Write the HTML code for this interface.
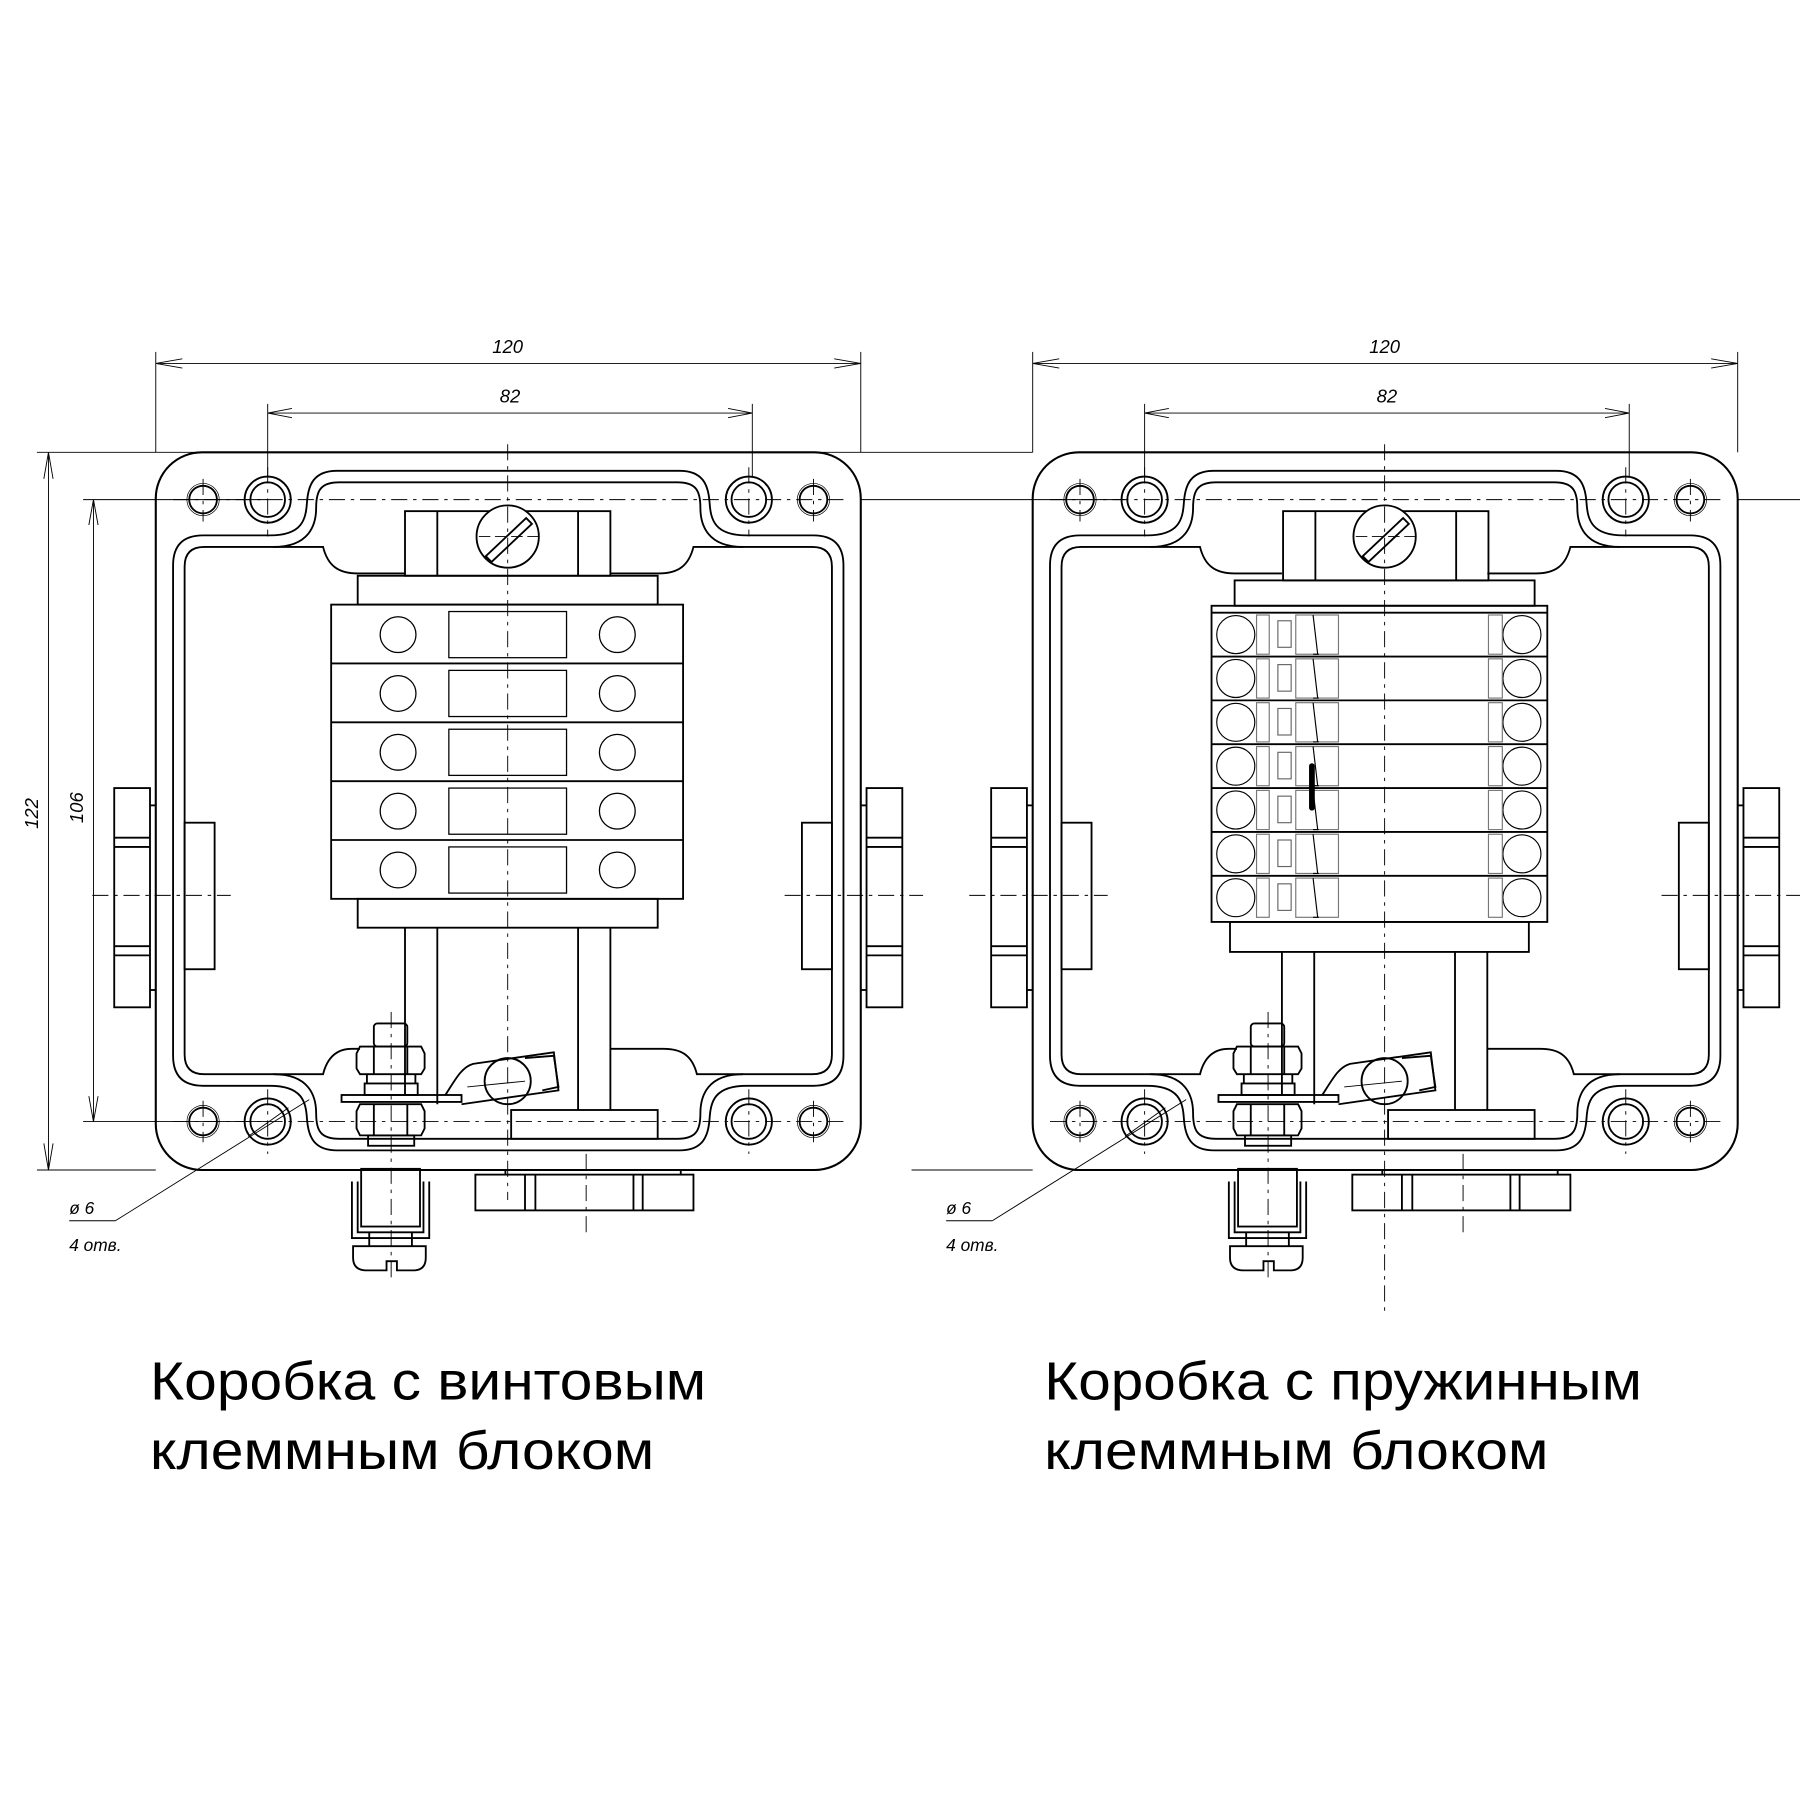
<!DOCTYPE html>
<html><head><meta charset="utf-8"><style>
html,body{margin:0;padding:0;background:#fff;}
svg{display:block}
.t{font-family:"Liberation Sans Narrow","Liberation Sans",sans-serif;}
</style></head><body>
<svg width="1800" height="1800" viewBox="0 0 1560 1560" xmlns="http://www.w3.org/2000/svg" fill="none" stroke="#000" stroke-width="1.6">
<defs>
<g id="box">
  <rect x="135" y="392" width="611" height="622" rx="40" stroke-width="1.8"/>
  <path d="M150,490 Q150,464 176,464 L234,464 C262,464 265,450 266,436 C267,420 272,408 292,408 L589,408 C609,408 614,420 615,436 C616,450 619,464 647,464 L705,464 Q731,464 731,490 L731,915 Q731,941 705,941 L647,941 C619,941 616,955 615,969 C614,985 609,997 589,997 L292,997 C272,997 267,985 266,969 C265,955 262,941 234,941 L176,941 Q150,941 150,915 Z"/>
  <path d="M160,491 Q160,474 177,474 L237,474 C268,474 274,455 274,440 C274,425 278,418 294,418 L587,418 C603,418 607,425 607,440 C607,455 613,474 644,474 L704,474 Q721,474 721,491 L721,914 Q721,931 704,931 L644,931 C613,931 607,950 607,965 C607,980 603,987 587,987 L294,987 C278,987 274,980 274,965 C274,950 268,931 237,931 L177,931 Q160,931 160,914 Z"/>
  <path d="M237,474 L280,474 C284,490 293,497 310,497 L351,497"/>
  <path d="M644,474 L601,474 C597,490 588,497 571,497 L529,497"/>
  <path d="M237,931 L280,931 C284,915 293,909 305,909 L312,909"/>
  <path d="M644,931 L604,931 C600,915 591,909 575,909 L529,909"/>
  <circle cx="232" cy="433" r="20"/><circle cx="232" cy="433" r="15"/>
  <circle cx="649" cy="433" r="20"/><circle cx="649" cy="433" r="15"/>
  <circle cx="232" cy="972" r="20"/><circle cx="232" cy="972" r="15"/>
  <circle cx="649" cy="972" r="20"/><circle cx="649" cy="972" r="15"/>
  <circle cx="176" cy="433" r="12"/><circle cx="176" cy="433" r="14" stroke-width="0.6"/>
  <circle cx="705" cy="433" r="12"/><circle cx="705" cy="433" r="14" stroke-width="0.6"/>
  <circle cx="176" cy="972" r="12"/><circle cx="176" cy="972" r="14" stroke-width="0.6"/>
  <circle cx="705" cy="972" r="12"/><circle cx="705" cy="972" r="14" stroke-width="0.6"/>
  <g stroke-width="0.8" stroke-dasharray="14,5,3,5">
    <line x1="150" y1="433" x2="735" y2="433"/>
    <line x1="150" y1="972" x2="735" y2="972"/>
    <line x1="232" y1="405" x2="232" y2="465"/><line x1="649" y1="405" x2="649" y2="465"/>
    <line x1="232" y1="944" x2="232" y2="1000"/><line x1="649" y1="944" x2="649" y2="1000"/>
    <line x1="176" y1="415" x2="176" y2="452"/><line x1="705" y1="415" x2="705" y2="452"/>
    <line x1="176" y1="954" x2="176" y2="990"/><line x1="705" y1="954" x2="705" y2="990"/>
    <line x1="80" y1="776" x2="200" y2="776"/><line x1="680" y1="776" x2="800" y2="776"/>
  </g>
  <rect x="99" y="683" width="31" height="190"/>
  <line x1="99" y1="726" x2="130" y2="726"/><line x1="99" y1="734" x2="130" y2="734"/>
  <line x1="99" y1="820" x2="130" y2="820"/><line x1="99" y1="828" x2="130" y2="828"/>
  <line x1="130" y1="698" x2="135" y2="698"/><line x1="130" y1="858" x2="135" y2="858"/>
  <rect x="160" y="713" width="26" height="127"/>
  <rect x="751" y="683" width="31" height="190"/>
  <line x1="751" y1="726" x2="782" y2="726"/><line x1="751" y1="734" x2="782" y2="734"/>
  <line x1="751" y1="820" x2="782" y2="820"/><line x1="751" y1="828" x2="782" y2="828"/>
  <line x1="746" y1="698" x2="751" y2="698"/><line x1="746" y1="858" x2="751" y2="858"/>
  <rect x="695" y="713" width="26" height="127"/>
  <rect x="324" y="887" width="29" height="20" rx="3"/>
  <path d="M312,907 L365,907 L368,913 L368,926 L365,931 L312,931 L309,926 L309,913 Z"/>
  <line x1="324" y1="907" x2="324" y2="931"/><line x1="353" y1="907" x2="353" y2="931"/>
  <rect x="316" y="939" width="46" height="10"/>
  <line x1="318" y1="931" x2="318" y2="939"/><line x1="360" y1="931" x2="360" y2="939"/>
  <rect x="296" y="949" width="104" height="6"/>
  <path d="M312,957 L365,957 L368,963 L368,978 L365,984 L312,984 L309,978 L309,963 Z"/>
  <line x1="324" y1="957" x2="324" y2="984"/><line x1="353" y1="957" x2="353" y2="984"/>
  <rect x="319" y="984" width="40" height="9"/>
  <circle cx="440" cy="937" r="20"/>
  <path d="M386,949 C395,935 400,925 410,922 L480,912 L484,945 L400,957"/>
  <path d="M455,917 L480,915 L484,942 L470,945"/>
  <line x1="405" y1="942" x2="455" y2="937" stroke-width="0.8"/>
  <rect x="313" y="1013" width="51" height="50"/>
  <path d="M305,1024 L305,1073 L372,1073 L372,1024 M310,1024 L310,1068 L367,1068 L367,1024"/>
  <line x1="320" y1="1068" x2="320" y2="1080"/><line x1="357" y1="1068" x2="357" y2="1080"/>
  <path d="M306,1080 L369,1080 L369,1090 Q369,1101 358,1101 L344,1101 L344,1093 L335,1093 L335,1101 L318,1101 Q306,1101 306,1090 Z"/>
  <line x1="438" y1="1014" x2="438" y2="1018"/><line x1="590" y1="1014" x2="590" y2="1018"/>
  <rect x="412" y="1018" width="189" height="31"/>
  <line x1="455" y1="1018" x2="455" y2="1049"/><line x1="464" y1="1018" x2="464" y2="1049"/>
  <line x1="549" y1="1018" x2="549" y2="1049"/><line x1="557" y1="1018" x2="557" y2="1049"/>
  <g stroke-width="0.8" stroke-dasharray="14,5,3,5">
    <line x1="339" y1="877" x2="339" y2="1110"/>
    <line x1="508" y1="1000" x2="508" y2="1070"/>
  </g>
  <line x1="100" y1="1058" x2="268" y2="953" stroke-width="0.8"/>
  <line x1="60" y1="1058" x2="100" y2="1058" stroke-width="0.8"/>
  <line x1="215" y1="985" x2="250" y2="960" stroke-width="0.8"/>
  <text x="60" y="1052" class="t" font-size="15" font-style="italic" fill="#000" stroke="none">ø 6</text>
  <text x="60" y="1084" class="t" font-size="15" font-style="italic" fill="#000" stroke="none">4 отв.</text>
  <g stroke-width="0.8">
    <line x1="135" y1="305" x2="135" y2="392"/><line x1="746" y1="305" x2="746" y2="392"/>
    <line x1="135" y1="315" x2="746" y2="315"/>
    <path d="M135,315 L158,311 M135,315 L158,319 M746,315 L723,311 M746,315 L723,319"/>
    <line x1="232" y1="350" x2="232" y2="413"/><line x1="652" y1="350" x2="652" y2="413"/>
    <line x1="232" y1="358" x2="652" y2="358"/>
    <path d="M232,358 L253,354 M232,358 L253,362 M652,358 L631,354 M652,358 L631,362"/>
  </g>
  <text x="440" y="306" class="t" font-size="16" font-style="italic" text-anchor="middle" fill="#000" stroke="none">120</text>
  <text x="442" y="349" class="t" font-size="16" font-style="italic" text-anchor="middle" fill="#000" stroke="none">82</text>
</g>
</defs>

<use href="#box"/>
<use href="#box" transform="translate(760,0)"/>

<g stroke-width="0.8">
  <line x1="32" y1="392" x2="895" y2="392"/>
  <line x1="32" y1="1014" x2="135" y2="1014"/>
  <line x1="42" y1="392" x2="42" y2="1014"/>
  <path d="M42,392 L38,415 M42,392 L46,415 M42,1014 L38,991 M42,1014 L46,991"/>
  <line x1="72" y1="433" x2="232" y2="433"/>
  <line x1="72" y1="972" x2="232" y2="972"/>
  <line x1="81" y1="433" x2="81" y2="972"/>
  <path d="M81,433 L77,455 M81,433 L85,455 M81,972 L77,950 M81,972 L85,950"/>
  <line x1="746" y1="433" x2="975" y2="433"/>
  <line x1="790" y1="1014" x2="895" y2="1014"/>
  <line x1="1506" y1="433" x2="1560" y2="433"/>
</g>
<text class="t" font-size="16" font-style="italic" fill="#000" stroke="none" transform="translate(33,705) rotate(-90)" text-anchor="middle">122</text>
<text class="t" font-size="16" font-style="italic" fill="#000" stroke="none" transform="translate(72,700) rotate(-90)" text-anchor="middle">106</text>

<g>
  <rect x="351" y="443" width="178" height="56"/>
  <line x1="379" y1="443" x2="379" y2="499"/><line x1="501" y1="443" x2="501" y2="499"/>
  <circle cx="440" cy="465" r="27" fill="#fff"/>
  <path d="M421,482 L456,449 L461,454 L426,487 Z"/>
  <rect x="310" y="499" width="260" height="25"/>
  <rect x="287" y="524" width="305" height="255"/>
  <line x1="287" y1="575" x2="592" y2="575"/><line x1="287" y1="626" x2="592" y2="626"/>
  <line x1="287" y1="677" x2="592" y2="677"/><line x1="287" y1="728" x2="592" y2="728"/>
  <g stroke-width="1.1">
    <circle cx="345" cy="550" r="15.5"/><circle cx="535" cy="550" r="15.5"/><rect x="389" y="530" width="102" height="40"/>
    <circle cx="345" cy="601" r="15.5"/><circle cx="535" cy="601" r="15.5"/><rect x="389" y="581" width="102" height="40"/>
    <circle cx="345" cy="652" r="15.5"/><circle cx="535" cy="652" r="15.5"/><rect x="389" y="632" width="102" height="40"/>
    <circle cx="345" cy="703" r="15.5"/><circle cx="535" cy="703" r="15.5"/><rect x="389" y="683" width="102" height="40"/>
    <circle cx="345" cy="754" r="15.5"/><circle cx="535" cy="754" r="15.5"/><rect x="389" y="734" width="102" height="40"/>
  </g>
  <rect x="310" y="779" width="260" height="25"/>
  <line x1="351" y1="804" x2="351" y2="949"/><line x1="379" y1="804" x2="379" y2="957"/>
  <line x1="501" y1="804" x2="501" y2="962"/><line x1="529" y1="804" x2="529" y2="962"/>
  <rect x="443" y="962" width="127" height="25"/>
  <line x1="440" y1="385" x2="440" y2="1040" stroke-width="0.8" stroke-dasharray="14,5,3,5"/>
  <line x1="415" y1="465" x2="470" y2="465" stroke-width="0.8" stroke-dasharray="10,4"/>
</g>

<g>
  <rect x="1112" y="443" width="178" height="60"/>
  <line x1="1140" y1="443" x2="1140" y2="503"/><line x1="1262" y1="443" x2="1262" y2="503"/>
  <circle cx="1200" cy="465" r="27" fill="#fff"/>
  <path d="M1181,482 L1216,449 L1221,454 L1186,487 Z"/>
  <rect x="1070" y="503" width="260" height="22"/>
  <rect x="1050" y="525" width="291" height="274"/>
  <line x1="1050" y1="531" x2="1341" y2="531"/>
  <line x1="1050" y1="569" x2="1341" y2="569"/><line x1="1050" y1="607" x2="1341" y2="607"/>
  <line x1="1050" y1="645" x2="1341" y2="645"/><line x1="1050" y1="683" x2="1341" y2="683"/>
  <line x1="1050" y1="721" x2="1341" y2="721"/><line x1="1050" y1="759" x2="1341" y2="759"/>
  <g id="srow" stroke-width="1">
    <circle cx="1071" cy="550" r="16.5"/><circle cx="1319" cy="550" r="16.5"/>
    <rect x="1089" y="533" width="11" height="34" stroke="#777"/>
    <rect x="1107.5" y="538" width="11.5" height="23" stroke="#666"/>
    <rect x="1123" y="533" width="37" height="34" stroke="#777"/>
    <line x1="1138" y1="533" x2="1142" y2="567"/>
    <line x1="1138" y1="567" x2="1143" y2="567"/>
    <rect x="1290" y="533" width="12" height="34" stroke="#777"/>
  </g>
  <use href="#srow" transform="translate(0,38)"/>
  <use href="#srow" transform="translate(0,76)"/>
  <use href="#srow" transform="translate(0,114)"/>
  <use href="#srow" transform="translate(0,152)"/>
  <use href="#srow" transform="translate(0,190)"/>
  <use href="#srow" transform="translate(0,228)"/>
  <line x1="1137" y1="664" x2="1137" y2="700" stroke-width="5" stroke-linecap="round"/>
  <rect x="1066" y="799" width="259" height="26"/>
  <line x1="1111" y1="825" x2="1111" y2="949"/><line x1="1139" y1="825" x2="1139" y2="957"/>
  <line x1="1261" y1="825" x2="1261" y2="962"/><line x1="1289" y1="825" x2="1289" y2="962"/>
  <rect x="1203" y="962" width="127" height="25"/>
  <line x1="1200" y1="385" x2="1200" y2="1140" stroke-width="0.8" stroke-dasharray="14,5,3,5"/>
  <line x1="1175" y1="465" x2="1230" y2="465" stroke-width="0.8" stroke-dasharray="10,4"/>
</g>

<g class="t" font-size="47" fill="#000" stroke="none">
  <text x="130" y="1213" textLength="482" lengthAdjust="spacingAndGlyphs">Коробка с винтовым</text>
  <text x="130" y="1273" textLength="437" lengthAdjust="spacingAndGlyphs">клеммным блоком</text>
  <text x="905" y="1213" textLength="518" lengthAdjust="spacingAndGlyphs">Коробка с пружинным</text>
  <text x="905" y="1273" textLength="437" lengthAdjust="spacingAndGlyphs">клеммным блоком</text>
</g>
</svg>
</body></html>
